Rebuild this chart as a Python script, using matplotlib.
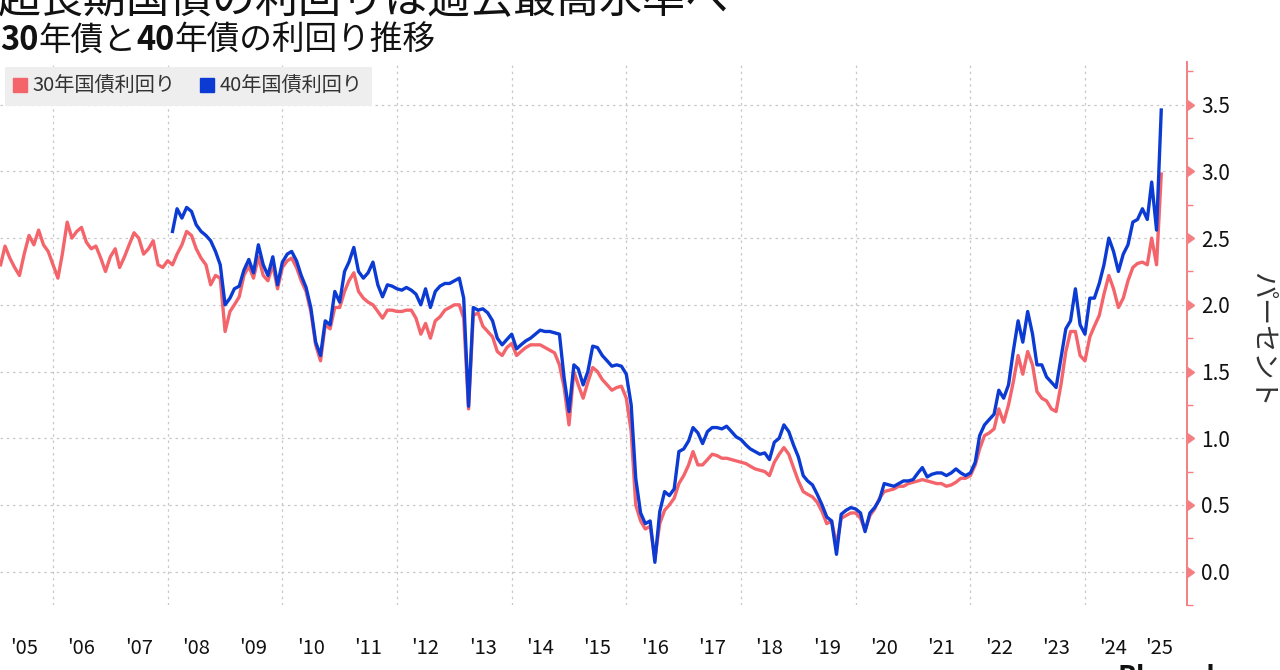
import numpy as np
import pandas as pd
import matplotlib
matplotlib.use("Agg")
import matplotlib.pyplot as plt
from matplotlib.ticker import MultipleLocator, FixedLocator, NullFormatter, FixedFormatter
from matplotlib.lines import Line2D

plt.rcParams['font.family'] = ['Noto Sans CJK JP', 'DejaVu Sans']

# 30年国債利回り, 月初 (2005年2月 - 2025年5月)
yield30 = [
    2.30, 2.44, 2.35, 2.28, 2.22, 2.38, 2.52, 2.45, 2.56, 2.45, 2.40,        # 2005
    2.30, 2.20, 2.38, 2.62, 2.50, 2.55, 2.58, 2.47, 2.42, 2.44, 2.35, 2.25,  # 2006
    2.36, 2.42, 2.28, 2.36, 2.45, 2.54, 2.50, 2.38, 2.42, 2.48, 2.30, 2.28,  # 2007
    2.33, 2.30, 2.38, 2.45, 2.55, 2.52, 2.42, 2.35, 2.30, 2.15, 2.22, 2.20,  # 2008
    1.80, 1.95, 2.00, 2.06, 2.22, 2.29, 2.20, 2.36, 2.22, 2.18, 2.30, 2.12,  # 2009
    2.28, 2.33, 2.35, 2.28, 2.18, 2.10, 1.95, 1.70, 1.58, 1.85, 1.82, 1.98,  # 2010
    1.98, 2.10, 2.18, 2.24, 2.10, 2.05, 2.02, 2.00, 1.95, 1.90, 1.96, 1.96,  # 2011
    1.95, 1.95, 1.96, 1.96, 1.90, 1.78, 1.86, 1.75, 1.88, 1.91, 1.96, 1.98,  # 2012
    2.00, 2.00, 1.90, 1.22, 1.92, 1.94, 1.84, 1.80, 1.76, 1.65, 1.62, 1.68,  # 2013
    1.71, 1.62, 1.65, 1.68, 1.70, 1.70, 1.70, 1.68, 1.66, 1.64, 1.55, 1.38,  # 2014
    1.10, 1.50, 1.40, 1.30, 1.42, 1.53, 1.50, 1.44, 1.40, 1.36, 1.38, 1.39,  # 2015
    1.30, 1.05, 0.50, 0.38, 0.32, 0.34, 0.10, 0.36, 0.46, 0.50, 0.55, 0.66,  # 2016
    0.72, 0.80, 0.90, 0.80, 0.80, 0.84, 0.88, 0.87, 0.85, 0.85, 0.84, 0.83,  # 2017
    0.82, 0.81, 0.79, 0.77, 0.76, 0.75, 0.72, 0.82, 0.88, 0.93, 0.88, 0.78,  # 2018
    0.68, 0.60, 0.58, 0.56, 0.52, 0.45, 0.36, 0.38, 0.20, 0.40, 0.42, 0.44,  # 2019
    0.44, 0.40, 0.31, 0.42, 0.47, 0.55, 0.60, 0.61, 0.62, 0.64, 0.64, 0.66,  # 2020
    0.67, 0.68, 0.69, 0.68, 0.67, 0.66, 0.66, 0.64, 0.65, 0.67, 0.70, 0.70,  # 2021
    0.72, 0.80, 0.92, 1.02, 1.04, 1.07, 1.22, 1.12, 1.25, 1.42, 1.62, 1.48,  # 2022
    1.65, 1.55, 1.35, 1.30, 1.28, 1.22, 1.20, 1.40, 1.65, 1.80, 1.80, 1.62,  # 2023
    1.58, 1.76, 1.84, 1.92, 2.08, 2.22, 2.12, 1.98, 2.05, 2.18, 2.28, 2.31,  # 2024
    2.32, 2.30, 2.50, 2.30, 2.98,                                            # 2025
]

# 40年国債利回り, 月初 (2008年2月 - 2025年5月)
yield40 = [
    2.55, 2.72, 2.65, 2.73, 2.70, 2.60, 2.55, 2.52, 2.48, 2.40, 2.30,        # 2008
    2.00, 2.05, 2.12, 2.14, 2.26, 2.34, 2.24, 2.45, 2.30, 2.22, 2.36, 2.15,  # 2009
    2.32, 2.38, 2.40, 2.33, 2.22, 2.13, 1.98, 1.72, 1.62, 1.88, 1.85, 2.10,  # 2010
    2.02, 2.25, 2.32, 2.43, 2.25, 2.20, 2.24, 2.32, 2.15, 2.06, 2.15, 2.14,  # 2011
    2.12, 2.11, 2.13, 2.11, 2.08, 2.00, 2.12, 1.98, 2.10, 2.14, 2.16, 2.16,  # 2012
    2.18, 2.20, 2.05, 1.24, 1.98, 1.96, 1.97, 1.94, 1.88, 1.75, 1.70, 1.74,  # 2013
    1.78, 1.67, 1.70, 1.73, 1.75, 1.78, 1.81, 1.80, 1.80, 1.79, 1.78, 1.45,  # 2014
    1.20, 1.55, 1.52, 1.40, 1.50, 1.69, 1.68, 1.62, 1.58, 1.54, 1.55, 1.54,  # 2015
    1.48, 1.25, 0.70, 0.44, 0.36, 0.38, 0.07, 0.45, 0.60, 0.57, 0.62, 0.90,  # 2016
    0.92, 0.98, 1.08, 1.04, 0.96, 1.05, 1.08, 1.08, 1.07, 1.09, 1.05, 1.01,  # 2017
    0.99, 0.95, 0.92, 0.90, 0.88, 0.89, 0.84, 0.97, 1.00, 1.10, 1.05, 0.95,  # 2018
    0.86, 0.72, 0.68, 0.65, 0.58, 0.50, 0.41, 0.38, 0.13, 0.43, 0.46, 0.48,  # 2019
    0.47, 0.44, 0.30, 0.44, 0.48, 0.54, 0.66, 0.65, 0.64, 0.66, 0.68, 0.68,  # 2020
    0.69, 0.74, 0.78, 0.71, 0.73, 0.74, 0.74, 0.72, 0.74, 0.77, 0.74, 0.72,  # 2021
    0.74, 0.82, 1.02, 1.10, 1.14, 1.18, 1.36, 1.30, 1.40, 1.65, 1.88, 1.72,  # 2022
    1.95, 1.78, 1.55, 1.55, 1.46, 1.42, 1.38, 1.60, 1.82, 1.88, 2.12, 1.85,  # 2023
    1.78, 2.05, 2.05, 2.16, 2.30, 2.50, 2.40, 2.25, 2.38, 2.45, 2.62, 2.64,  # 2024
    2.72, 2.64, 2.92, 2.56, 3.46,                                            # 2025
]

dates30 = pd.date_range("2005-02-01", periods=len(yield30), freq="MS")
dates40 = pd.date_range("2008-02-01", periods=len(yield40), freq="MS")

year_labels = ["'05", "'06", "'07", "'08", "'09", "'10", "'11", "'12", "'13", "'14",
               "'15", "'16", "'17", "'18", "'19", "'20", "'21", "'22", "'23", "'24", "'25"]
label_pos = [pd.Timestamp(f"{y}-07-01") for y in range(2005, 2025)] + [pd.Timestamp("2025-04-20")]
grid_pos = [pd.Timestamp(f"{y}-01-01") for y in range(2006, 2025, 2)]

red = '#f4646b'
blue = '#0b3bd3'
spine_red = '#f47f82'

fig = plt.figure(figsize=(12.8, 6.7), dpi=100)
ax = fig.add_axes([0.0, 65 / 670, 1187 / 1280, 543 / 670])

ax.plot(dates30, yield30, color=red, lw=2.4, solid_joinstyle='round')
ax.plot(dates40, yield40, color=blue, lw=2.4, solid_joinstyle='round')

ax.set_xlim(pd.Timestamp("2005-01-28"), pd.Timestamp("2025-10-12"))
ax.set_ylim(-0.25, 3.82)

# x軸: 2年ごとの格子線, ラベルは年の中央
ax.xaxis.set_major_locator(FixedLocator([matplotlib.dates.date2num(d) for d in grid_pos]))
ax.xaxis.set_major_formatter(NullFormatter())
ax.xaxis.set_minor_locator(FixedLocator([matplotlib.dates.date2num(d) for d in label_pos]))
ax.xaxis.set_minor_formatter(FixedFormatter(year_labels))
ax.tick_params(axis='x', which='both', length=0)
ax.tick_params(axis='x', which='minor', labelsize=14.5, pad=24, labelcolor='#111111')

# y軸 (右側)
ax.yaxis.tick_right()
ax.yaxis.set_major_locator(MultipleLocator(0.5))
ax.yaxis.set_minor_locator(MultipleLocator(0.25))
ax.yaxis.set_major_formatter(matplotlib.ticker.FormatStrFormatter('%.1f'))
ax.tick_params(axis='y', which='major', length=7, width=1, color=spine_red,
               labelsize=15, pad=3, labelcolor='#111111')
ax.tick_params(axis='y', which='minor', length=4, width=1, color=spine_red)
for t in ax.yaxis.get_major_ticks():
    t.tick2line.set_marker(9)
    t.tick2line.set_markerfacecolor(spine_red)

for s in ['top', 'left', 'bottom']:
    ax.spines[s].set_visible(False)
ax.spines['right'].set_color(spine_red)
ax.spines['right'].set_linewidth(1.4)

ax.grid(True, which='major', color='#c8c8c8', linestyle=(0, (2, 3)), lw=0.9)
ax.set_axisbelow(True)

handles = [Line2D([], [], marker='s', ls='none', color=red, markersize=10),
           Line2D([], [], marker='s', ls='none', color=blue, markersize=10)]
leg = ax.legend(handles, ['30年国債利回り', '40年国債利回り'], loc='upper left',
                bbox_to_anchor=(0.0, 1.0), ncol=2, frameon=True, fancybox=False,
                fontsize=14.5, handlelength=0.6, handletextpad=0.3, columnspacing=1.3,
                borderaxespad=0.25, borderpad=0.45)
leg.get_frame().set_facecolor('#eeeeee')
leg.get_frame().set_edgecolor('none')
leg.get_frame().set_alpha(1)
for txt in leg.get_texts():
    txt.set_color('#333333')

fig.text(1262 / 1280, 1 - 340 / 670, 'パーセント', rotation=270, fontsize=19.5,
         ha='center', va='center', color='#333333')

# タイトル (上端で切れている)
fig.text(-0.002, 1 - 1 / 670, '超長期国債の利回りは過去最高水準へ', fontsize=31,
         ha='left', va='center', color='#111111')

# サブタイトル (数字のみ太字)
renderer = fig.canvas.get_renderer()
x = 0.0
for s, w in [('30', 'bold'), ('年債と', 'normal'), ('40', 'bold'), ('年債の利回り推移', 'normal')]:
    t = fig.text(x, 1 - 41 / 670, s, fontsize=23.5, fontweight=w, ha='left', va='center',
                 color='#111111')
    bb = t.get_window_extent(renderer)
    x += bb.width / fig.bbox.width

fig.text(1118 / 1280, -0.012, 'Bloomberg', fontsize=20, fontweight='bold', ha='left',
         va='center', color='#111111')

fig.savefig('out.png', dpi=100)
